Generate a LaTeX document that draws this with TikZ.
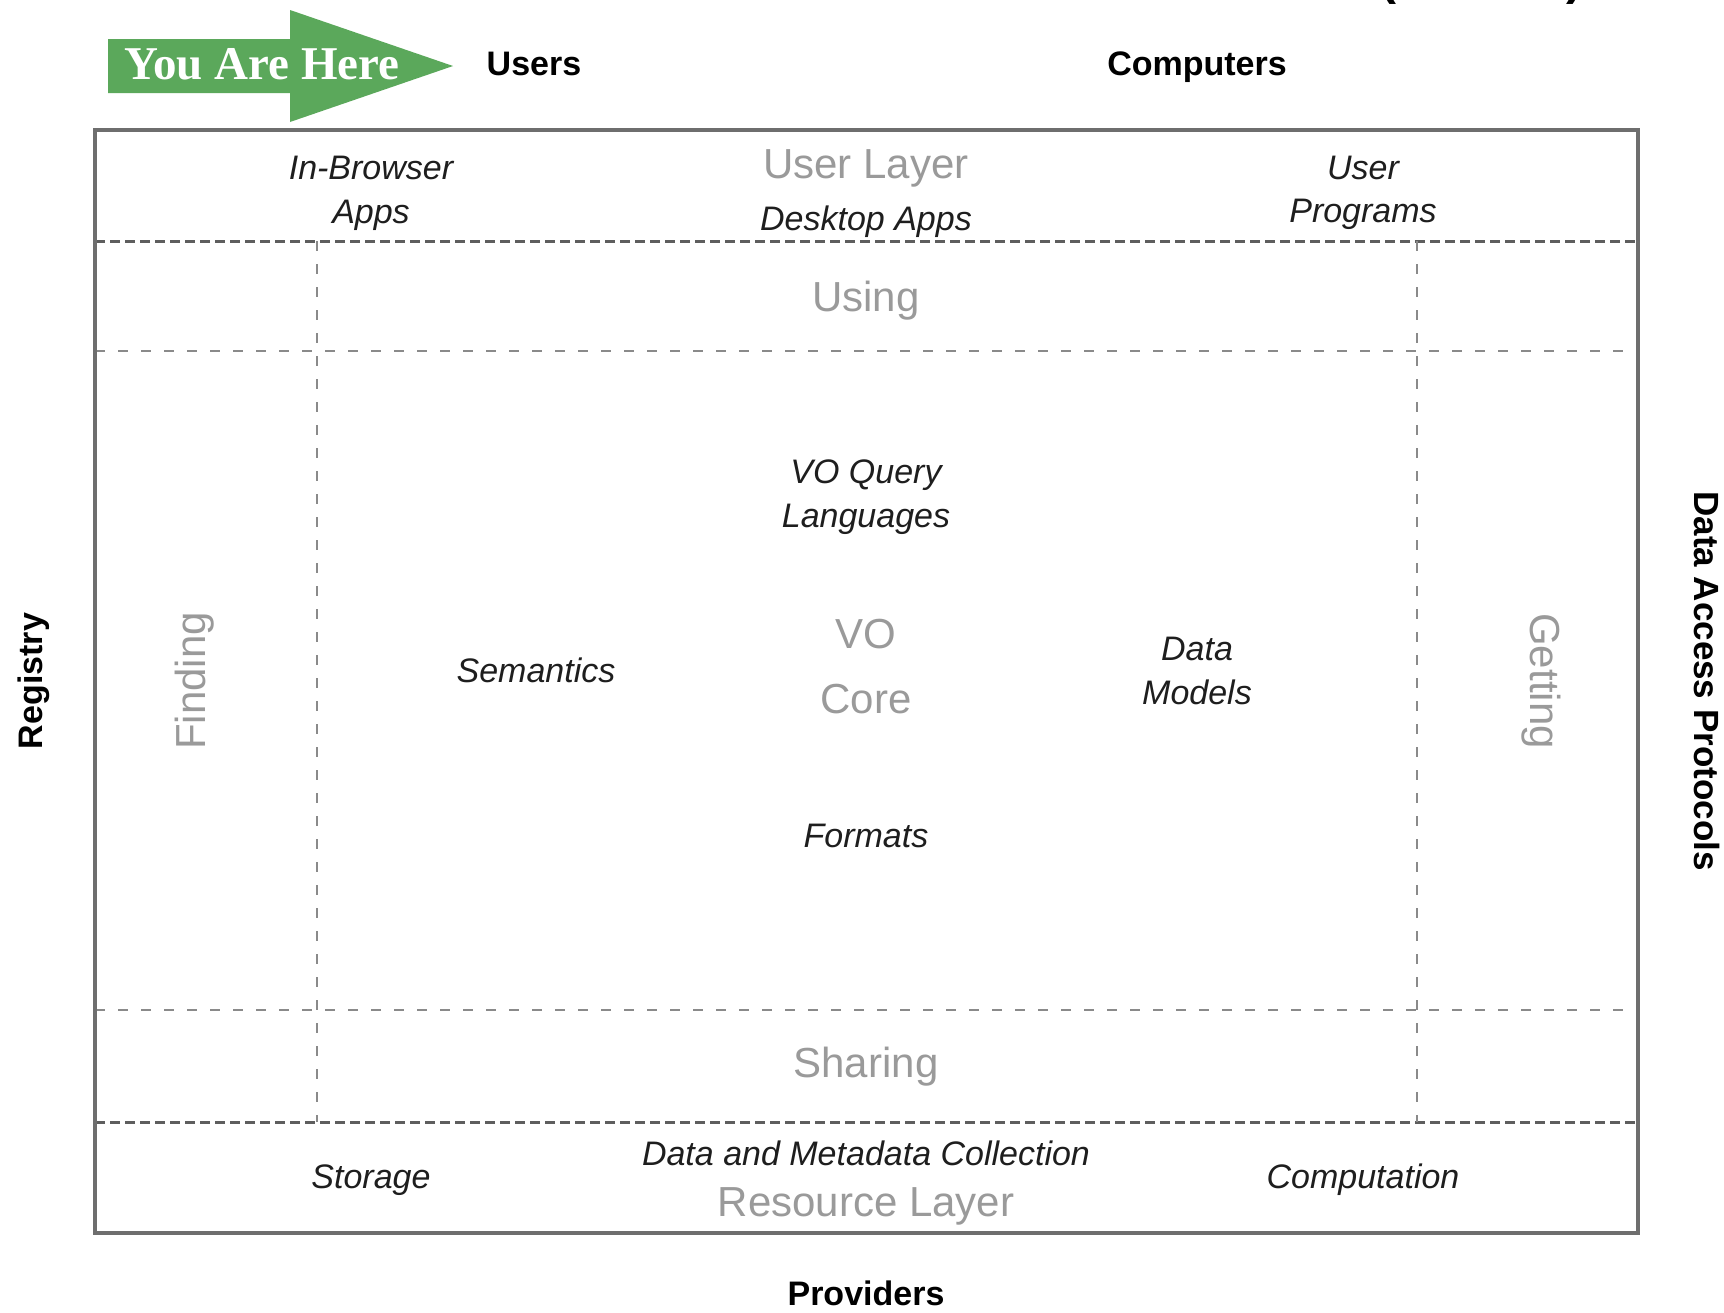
\documentclass[tikz,border=0pt]{standalone}
\usepackage{fontspec}
\setmainfont{Liberation Sans}
\newfontfamily\yahfont{Liberation Serif}
\definecolor{boxgrey}{HTML}{6E6E6E}
\definecolor{dashgrey}{HTML}{5E5E5E}
\definecolor{lightdash}{HTML}{8A8A8A}
\definecolor{layergrey}{HTML}{9A9A9A}
\definecolor{arrowgreen}{HTML}{5BA85B}
\definecolor{inktext}{HTML}{1E1E1E}
\tikzset{
  itl/.style={anchor=base,inner sep=0pt,font=\fontsize{34}{40}\selectfont\itshape,text=inktext},
  grl/.style={anchor=base,inner sep=0pt,font=\fontsize{42}{48}\selectfont,text=layergrey},
  bdl/.style={anchor=base,inner sep=0pt,font=\fontsize{34}{40}\selectfont\bfseries,text=black},
  outerbox/.style={draw=boxgrey,line width=3.5pt},
  densedash/.style={draw=dashgrey,line width=3pt,dash pattern=on 10pt off 5pt},
  sparsedash/.style={draw=lightdash,line width=2.5pt,dash pattern=on 10pt off 13pt},
}
\begin{document}
\begin{tikzpicture}[x=1pt,y=-1pt]
\useasboundingbox (0,0) rectangle (1724,1312);
\fill[white] (0,0) rectangle (1724,1312);

% cut-off parentheses at the top right
\node[anchor=base,inner sep=0pt,font=\fontsize{48}{52}\selectfont\bfseries] (lp) at (1388,-6) {(};
\node[anchor=base,inner sep=0pt,font=\fontsize{48}{52}\selectfont\bfseries] (rp) at (1574,-6) {)};

% You Are Here arrow
\fill[arrowgreen] (108,39) -- (290,39) -- (290,10) -- (453,66) -- (290,122) -- (290,93) -- (108,93) -- cycle;
\node[anchor=base,inner sep=0pt,text=white,font=\fontsize{47}{52}\selectfont\yahfont\bfseries] (yah) at (262,79) {You Are Here};

% outer labels
\node[bdl] (users) at (534,75) {Users};
\node[bdl] (computers) at (1197,75) {Computers};
\node[bdl] (providers) at (866,1305) {Providers};
\node[bdl,rotate=90] (registry) at (42,681) {Registry};
\node[bdl,rotate=-90,font=\fontsize{35}{40}\selectfont\bfseries] (dap) at (1694,681) {Data Access Protocols};

% main frame
\coordinate (tl) at (95,130);
\coordinate (br) at (1638,1233);
\draw[densedash] (95,241) -- (1638,241);
\draw[densedash] (95,1122) -- (1638,1122);
\draw[sparsedash] (95,351) -- (1638,351);
\draw[sparsedash] (95,1010) -- (1638,1010);
\draw[sparsedash] (317,241) -- (317,1122);
\draw[sparsedash] (1417,241) -- (1417,1122);
\draw[outerbox] (tl) rectangle (br);

% user layer
\node[itl] (ib1) at (371,179) {In-Browser};
\node[itl] (ib2) at (371,223) {Apps};
\node[grl] (userlayer) at (866,178) {User Layer};
\node[itl] (desk) at (866,230) {Desktop Apps};
\node[itl] (up1) at (1363,179) {User};
\node[itl] (up2) at (1363,222) {Programs};

% middle
\node[grl] (using) at (866,311) {Using};
\node[itl] (voq1) at (866,483) {VO Query};
\node[itl] (voq2) at (866,527) {Languages};
\node[grl] (vo) at (866,648) {VO};
\node[grl] (core) at (866,713) {Core};
\node[itl] (sem) at (536,682) {Semantics};
\node[itl] (dm1) at (1197,660) {Data};
\node[itl] (dm2) at (1197,704) {Models};
\node[itl] (fmt) at (866,847) {Formats};
\node[grl,rotate=90] (finding) at (205,681) {Finding};
\node[grl,rotate=-90] (getting) at (1530,681) {Getting};
\node[grl] (sharing) at (866,1077) {Sharing};

% resource layer
\node[itl] (dmc) at (866,1165) {Data and Metadata Collection};
\node[grl] (reslayer) at (866,1216) {Resource Layer};
\node[itl] (storage) at (371,1188) {Storage};
\node[itl] (comp) at (1363,1188) {Computation};
\end{tikzpicture}
\end{document}
